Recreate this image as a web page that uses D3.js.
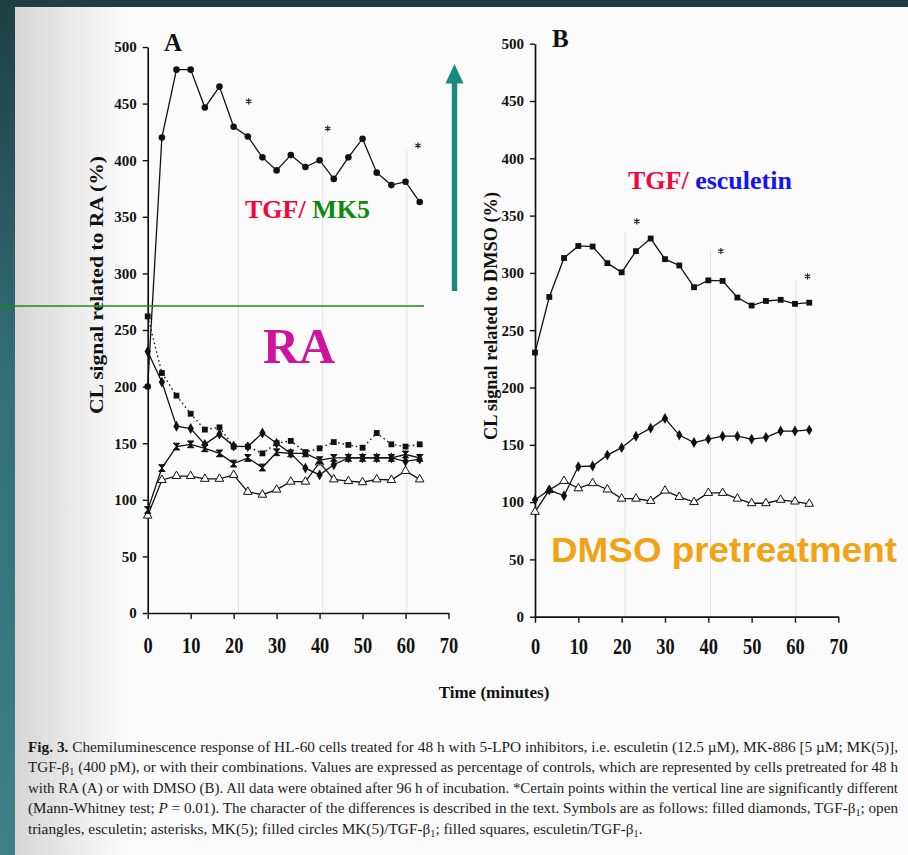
<!DOCTYPE html>
<html>
<head>
<meta charset="utf-8">
<script src="https://cdn.jsdelivr.net/npm/d3@7"></script>
<style>
  body { margin: 0; background: #fff; }
  svg { display: block; }
</style>
</head>
<body>
<svg id="fig" width="908" height="855"></svg>
<script>
// ---- sampling times (minutes) ----
const times = [0, 3.3, 6.7, 10, 13.3, 16.7, 20, 23.3, 26.7, 30, 33.3, 36.7, 40, 43.3, 46.7, 50, 53.3, 56.7, 60, 63.3];

// ---- axis ticks ----
const xTicks = [0, 10, 20, 30, 40, 50, 60, 70];
const yTicks = [0, 50, 100, 150, 200, 250, 300, 350, 400, 450, 500];

// ---- panel A: cells pretreated with RA (% of control) ----
const aMk5Tgf = [200, 420, 480, 480, 446.5, 465, 429.5, 421, 402.5, 391, 404.5, 394, 400, 383.5, 402.5, 419, 389, 378, 381, 363];
const aEscTgf = [262, 212, 192, 176, 162, 164, 147, 147, 141, 150, 152, 142, 145.5, 151, 148.5, 146, 159, 149, 147, 149];
const aTgf    = [231, 204, 165, 163, 149, 158, 147.5, 147, 159, 150, 141, 128, 122, 131, 137, 137, 137, 137, 134, 136];
const aMk5    = [91, 128, 147, 149, 145.5, 141, 132, 137, 128.5, 142, 141, 141, 135, 137, 137, 137, 137, 137, 140, 137];
const aEsc    = [86, 117.5, 121, 121, 118.5, 118.5, 122, 107, 104.5, 109, 116, 116, 133, 118, 116.5, 115.5, 118, 117.5, 125.5, 118];

// ---- panel B: cells pretreated with DMSO (% of control) ----
const bEscTgf = [230.5, 279, 313, 323.5, 323, 308.5, 300.5, 319, 330, 312, 306.5, 287.5, 293.5, 293, 278.5, 271.5, 275.5, 276.5, 273, 274];
const bTgf    = [102, 110.5, 105.5, 131, 131.5, 141, 147.5, 157.5, 164.5, 173, 158.5, 152, 155, 157.5, 157.5, 155, 156.5, 162, 162, 163];
const bEsc    = [91.5, 110.5, 118.5, 112, 116.5, 111, 103, 103, 101, 110, 104.5, 100, 108, 108, 103, 99, 99, 102, 100.5, 98.5];

// ---- significance marks: vertical guide (time, top value) and asterisk (time, value) ----
const sigLinesA = [[21.1, 427], [40.7, 421], [60.3, 409]];
const starsA    = [[23.5, 452], [41.9, 428], [62.9, 413]];
const sigLinesB = [[20.8, 335], [40.5, 320], [60.2, 294]];
const starsB    = [[23.5, 345], [42.9, 319], [62.9, 297]];

// ---- caption ----
const captionLines = [
  [["b", "Fig. 3."], ["", " Chemiluminescence response of HL-60 cells treated for 48 h with 5-LPO inhibitors, i.e. esculetin (12.5 µM), MK-886 [5 µM; MK(5)],"]],
  [["", "TGF-β"], ["sub", "1"], ["", " (400 pM), or with their combinations. Values are expressed as percentage of controls, which are represented by cells pretreated for 48 h"]],
  [["", "with RA (A) or with DMSO (B). All data were obtained after 96 h of incubation. *Certain points within the vertical line are significantly different"]],
  [["", "(Mann-Whitney test; "], ["i", "P"], ["", " = 0.01). The character of the differences is described in the text. Symbols are as follows: filled diamonds, TGF-β"], ["sub", "1"], ["", "; open"]],
  [["", "triangles, esculetin; asterisks, MK(5); filled circles MK(5)/TGF-β"], ["sub", "1"], ["", "; filled squares, esculetin/TGF-β"], ["sub", "1"], ["", "."]]
];

const svg = d3.select("#fig");
const serif = "'Liberation Serif', 'Times New Roman', serif";

// ---------- page background and slide frame ----------
const defs = svg.append("defs");
const shade = defs.append("linearGradient").attr("id", "pageShade").attr("x1", 0).attr("x2", 1).attr("y1", 0).attr("y2", 0);
shade.append("stop").attr("offset", "0%").attr("stop-color", "#d6d6d6");
shade.append("stop").attr("offset", "100%").attr("stop-color", "#fbfbfb");
const bar = defs.append("linearGradient").attr("id", "sideBar").attr("x1", 0).attr("x2", 0).attr("y1", 0).attr("y2", 1);
bar.append("stop").attr("offset", "0%").attr("stop-color", "#1f3e46");
bar.append("stop").attr("offset", "45%").attr("stop-color", "#33707a");
bar.append("stop").attr("offset", "100%").attr("stop-color", "#3f7f85");

svg.append("rect").attr("width", 908).attr("height", 855).attr("fill", "#fbfbfb");
svg.append("rect").attr("x", 15).attr("width", 110).attr("height", 855).attr("fill", "url(#pageShade)");
svg.append("rect").attr("width", 908).attr("height", 7).attr("fill", "#1e3d45");
svg.append("rect").attr("width", 15).attr("height", 855).attr("fill", "url(#sideBar)");

// ---------- marker shapes ----------
const sym = (type, size) => d3.symbol().type(type).size(size)();
const hourglass = "M-3.2,-3.4L3.2,-3.4L-3.2,3.4L3.2,3.4Z";
const markers = {
  circle:   { d: sym(d3.symbolCircle, 34), fill: "#111", stroke: "none" },
  square:   { d: sym(d3.symbolSquare, 34), fill: "#111", stroke: "none" },
  diamond:  { d: sym(d3.symbolDiamond, 34), fill: "#111", stroke: "none" },
  hourglass:{ d: hourglass, fill: "#111", stroke: "#111" },
  triangle: { d: sym(d3.symbolTriangle, 32), fill: "#fff", stroke: "#111" }
};

function drawPanel(cfg) {
  const g = svg.append("g");
  const x = d3.scaleLinear().domain([0, 70]).range(cfg.xRange);
  const y = d3.scaleLinear().domain([0, 500]).range(cfg.yRange);

  // faint vertical guides marking the significant time points
  g.selectAll("line.sig").data(cfg.sigLines).join("line")
    .attr("x1", d => x(d[0])).attr("x2", d => x(d[0]))
    .attr("y1", d => y(d[1])).attr("y2", y(0))
    .attr("stroke", "#e3e3e3").attr("stroke-width", 1);

  // y axis
  const yAxis = g.append("g").attr("transform", `translate(${x(0)},0)`)
    .call(d3.axisLeft(y).tickValues(yTicks).tickSize(5).tickSizeOuter(0).tickPadding(6));
  yAxis.selectAll("text").attr("font-family", serif).attr("font-weight", "bold")
    .attr("font-size", 15).attr("fill", "#111");

  // x axis
  const xAxis = g.append("g").attr("transform", `translate(0,${y(0)})`)
    .call(d3.axisBottom(x).tickValues(xTicks).tickSize(6).tickSizeOuter(0));
  xAxis.selectAll("text").attr("font-family", serif).attr("font-weight", "bold")
    .attr("font-size", 23).attr("fill", "#111")
    .attr("dy", 0).attr("y", cfg.xLabelOffset)
    .attr("transform", "scale(0.8,1)");

  [yAxis, xAxis].forEach(a => {
    a.select(".domain").attr("stroke", "#111").attr("stroke-width", 1.7);
    a.selectAll(".tick line").attr("stroke", "#111").attr("stroke-width", 1.4);
  });

  // series
  const line = d3.line().x(d => x(d[0])).y(d => y(d[1]));
  cfg.series.forEach(s => {
    const pts = times.map((t, i) => [t, s.values[i]]);
    g.append("path").datum(pts)
      .attr("d", line).attr("fill", "none")
      .attr("stroke", "#111").attr("stroke-width", s.dash ? 1.4 : 1.3)
      .attr("stroke-dasharray", s.dash || null);
    const m = markers[s.marker];
    g.selectAll(null).data(pts).join("path")
      .attr("transform", d => `translate(${x(d[0])},${y(d[1])})`)
      .attr("d", m.d).attr("fill", m.fill).attr("stroke", m.stroke).attr("stroke-width", 1);
  });

  // asterisks
  g.selectAll(null).data(cfg.stars).join("path")
    .attr("transform", d => `translate(${x(d[0])},${y(d[1])})`)
    .attr("d", sym(d3.symbolAsterisk, 26))
    .attr("fill", "none").attr("stroke", "#222").attr("stroke-width", 1.2);

  // panel letter
  g.append("text").attr("x", cfg.letterPos[0]).attr("y", cfg.letterPos[1])
    .attr("font-family", serif).attr("font-weight", "bold").attr("font-size", 25)
    .attr("fill", "#111").text(cfg.letter);

  // y axis title
  g.append("text")
    .attr("transform", `translate(${cfg.yTitlePos[0]},${cfg.yTitlePos[1]}) rotate(-90)`)
    .attr("text-anchor", "middle")
    .attr("font-family", serif).attr("font-weight", "bold").attr("font-size", 19)
    .attr("textLength", cfg.yTitleLength).attr("lengthAdjust", "spacingAndGlyphs")
    .attr("fill", "#111").text(cfg.yTitle);
}

drawPanel({
  xRange: [147.7, 448.5], yRange: [613, 47], xLabelOffset: 40,
  sigLines: sigLinesA, stars: starsA,
  letter: "A", letterPos: [164, 51],
  yTitle: "CL signal related to RA (%)", yTitlePos: [103, 285], yTitleLength: 258,
  series: [
    { values: aEscTgf, marker: "square", dash: "1.5,3" },
    { values: aEsc, marker: "triangle" },
    { values: aMk5, marker: "hourglass" },
    { values: aTgf, marker: "diamond" },
    { values: aMk5Tgf, marker: "circle" }
  ]
});

drawPanel({
  xRange: [535, 838.3], yRange: [616.7, 43.7], xLabelOffset: 37,
  sigLines: sigLinesB, stars: starsB,
  letter: "B", letterPos: [552, 47],
  yTitle: "CL signal related to DMSO (%)", yTitlePos: [497, 316], yTitleLength: 248,
  series: [
    { values: bEsc, marker: "triangle" },
    { values: bTgf, marker: "diamond" },
    { values: bEscTgf, marker: "square" }
  ]
});

// shared x axis title
svg.append("text").attr("x", 494).attr("y", 698).attr("text-anchor", "middle")
  .attr("font-family", serif).attr("font-weight", "bold").attr("font-size", 17)
  .attr("fill", "#111").text("Time (minutes)");

// ---------- caption ----------
const capG = svg.append("g");
const capLeft = 28, capRight = 898, capTop = 752, capStep = 20.4;
let fitScale = 1;
captionLines.forEach((parts, li) => {
  const t = capG.append("text").attr("x", capLeft).attr("y", capTop + li * capStep)
    .attr("font-family", serif).attr("font-size", 15).attr("fill", "#1c1c1c");
  parts.forEach(([kind, str]) => {
    const ts = t.append("tspan").text(str);
    if (kind === "b") ts.attr("font-weight", "bold");
    if (kind === "i") ts.attr("font-style", "italic");
    if (kind === "sub") ts.attr("font-size", 10).attr("baseline-shift", "-25%");
  });
  const natural = t.node().getComputedTextLength();
  if (li < captionLines.length - 1) {
    if (li === 0) fitScale = (capRight - capLeft) / natural;
    t.attr("textLength", capRight - capLeft).attr("lengthAdjust", "spacingAndGlyphs");
  } else {
    t.attr("textLength", natural * fitScale).attr("lengthAdjust", "spacingAndGlyphs");
  }
});

// ---------- slide annotations ----------
// green reference line across panel A
svg.append("line").attr("x1", 0).attr("x2", 424).attr("y1", 306).attr("y2", 306)
  .attr("stroke", "#1d8a1d").attr("stroke-width", 1.6);

// teal upward arrow
const arrowG = svg.append("g").attr("fill", "#17897f");
arrowG.append("rect").attr("x", 451.8).attr("y", 80).attr("width", 5.4).attr("height", 211);
arrowG.append("path").attr("d", "M454.5,64L463.5,83.5L445.5,83.5Z");

const ann = svg.append("g").attr("font-weight", "bold");
const t1 = ann.append("text").attr("x", 245).attr("y", 218).attr("font-family", serif).attr("font-size", 26);
t1.append("tspan").attr("fill", "#f2063c").text("TGF/ ");
t1.append("tspan").attr("fill", "#0b8a0b").text("MK5");

ann.append("text").attr("x", 263).attr("y", 363).attr("font-family", serif).attr("font-size", 50)
  .attr("fill", "#d0139b").text("RA");

const t2 = ann.append("text").attr("x", 628).attr("y", 189).attr("font-family", serif).attr("font-size", 26);
t2.append("tspan").attr("fill", "#f2063c").text("TGF/ ");
t2.append("tspan").attr("fill", "#1414f0").text("esculetin");

ann.append("text").attr("x", 551).attr("y", 562)
  .attr("font-family", "'Liberation Sans', Arial, sans-serif").attr("font-size", 35)
  .attr("textLength", 346).attr("lengthAdjust", "spacingAndGlyphs")
  .attr("fill", "#f2a313").text("DMSO pretreatment");
</script>
</body>
</html>
